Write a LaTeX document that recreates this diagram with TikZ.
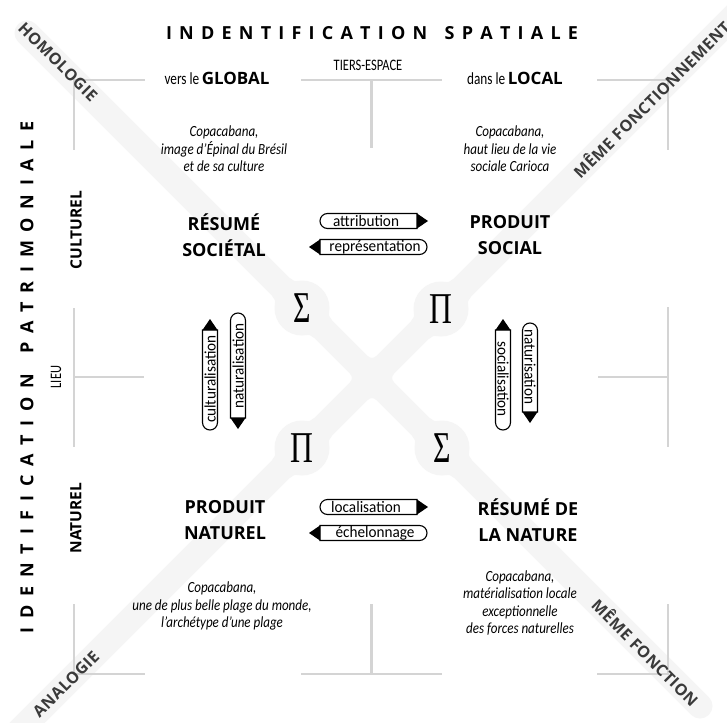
\documentclass[tikz,border=0pt]{standalone}
\usepackage{fontspec}
\setmainfont{Open Sans}
\newfontfamily\heavy{Open Sans}
\newfontfamily\cond[FakeStretch=0.78]{Carlito}
\newfontfamily\condit[FakeStretch=0.84]{Carlito}
\newfontfamily\boxf[FakeStretch=0.95]{Carlito}
\newfontfamily\grk{Liberation Serif}
\newfontfamily\bandf[LetterSpace=3]{Open Sans}
\usetikzlibrary{calc}
\definecolor{bandgray}{RGB}{245,245,245}
\definecolor{framegray}{RGB}{212,212,212}
\definecolor{bandtext}{RGB}{58,58,58}
\tikzset{
  pics/pill/.style={code={
    \draw[line width=1.1pt, fill=white] (#1/2,-7.5) -- (-#1/2+7.5,-7.5)
       arc[start angle=-90, end angle=-270, radius=7.5] -- (#1/2,7.5) -- cycle;
    \fill (#1/2,-7.5) -- (#1/2+11,0) -- (#1/2,7.5) -- cycle;
  }},
  pics/blob/.style={code={
    \fill[bandgray] (0,0) circle[radius=27.5];
    \foreach \sx in {1,-1} \foreach \sy in {1,-1}
      \fill[bandgray, xscale=\sx, yscale=\sy] (0,0) -- (29.9,12.5)
        arc[start angle=-90, end angle=-140.1, radius=12] -- cycle;
  }},
  pics/crossfill/.style={code={
    \foreach \a in {0,90,180,270}
      \fill[bandgray, rotate=\a] (12.5,12.5) -- (18.5,12.5)
        arc[start angle=-90, end angle=-180, radius=6] -- cycle;
  }}
}
\begin{document}
\begin{tikzpicture}[x=1pt,y=-1pt,
  bandline/.style={draw=bandgray, line width=25pt, line cap=round},
  fr/.style={draw=framegray, line width=2.2pt},
  titletxt/.style={font=\heavy\bfseries\fontsize{18}{18}\selectfont, inner sep=0pt},
  bandlbl/.style={font=\bandf\bfseries\fontsize{16}{16}\selectfont, text=bandtext, inner sep=0pt},
  quad/.style={font=\heavy\bfseries\fontsize{18}{26}\selectfont, align=center, inner sep=0pt},
  desc/.style={font=\condit\itshape\fontsize{15.5}{17.5}\selectfont, align=center, inner sep=0pt},
  sidelbl/.style={font=\heavy\bfseries\fontsize{15.5}{15.5}\selectfont, inner sep=0pt},
  smalllbl/.style={font=\cond\fontsize{16}{16}\selectfont, inner sep=0pt},
  pilltxt/.style={font=\boxf\fontsize{16}{16}\selectfont, inner sep=0pt},
  greek/.style={font=\grk\fontsize{44}{44}\selectfont, inner sep=0pt}
]
\path[use as bounding box, fill=white] (0,0) rectangle (727,722);

% ---- grey X band ----
\coordinate (bTL) at (27,33);
\coordinate (bBR) at (700,706);
\coordinate (bTR) at (745,5);
\coordinate (bBL) at (5,745);
\coordinate (xc) at (372,378);
\coordinate (c1) at (302,308);
\coordinate (c2) at (441,309);
\coordinate (c3) at (302,448);
\coordinate (c4) at (442,448);
\draw[bandline] (bTL) -- (bBR);
\draw[bandline] (bTR) -- (bBL);
\pic[rotate=-45] at (c1) {blob};
\pic[rotate=-45] at (c4) {blob};
\pic[rotate=45] at (c2) {blob};
\pic[rotate=45] at (c3) {blob};
\pic[rotate=45] at (xc) {crossfill};

% ---- frame lines ----
\draw[fr] (73,80) -- (145,80);   \draw[fr] (74,80) -- (74,150);
\draw[fr] (301,80) -- (442,80);  \draw[fr] (371.5,80) -- (371.5,148);
\draw[fr] (597,80) -- (669,80);  \draw[fr] (668,80) -- (668,150);
\draw[fr] (74,308) -- (74,447);  \draw[fr] (74,377) -- (144,377);
\draw[fr] (668,307) -- (668,447); \draw[fr] (598,377) -- (668,377);
\draw[fr] (73,674) -- (145,674);  \draw[fr] (74,604) -- (74,674);
\draw[fr] (301,674) -- (442,674); \draw[fr] (371.5,604) -- (371.5,674);
\draw[fr] (597,674) -- (669,674); \draw[fr] (668,604) -- (668,674);

% ---- titles ----
\node[titletxt] (tspat) at (372,33) {\makebox[412pt][s]{I\hfill N\hfill D\hfill E\hfill N\hfill T\hfill I\hfill F\hfill I\hfill C\hfill A\hfill T\hfill I\hfill O\hfill N\hfill\hspace{3pt}\hfill S\hfill P\hfill A\hfill T\hfill I\hfill A\hfill L\hfill E}};
\node[titletxt, rotate=90] (tpatr) at (27,377) {\makebox[512pt][s]{I\hfill D\hfill E\hfill N\hfill T\hfill I\hfill F\hfill I\hfill C\hfill A\hfill T\hfill I\hfill O\hfill N\hfill\hspace{3pt}\hfill P\hfill A\hfill T\hfill R\hfill I\hfill M\hfill O\hfill N\hfill I\hfill A\hfill L\hfill E}};

\node[smalllbl] (tiers) at (368,65) {TIERS-ESPACE};
\node[inner sep=0pt] (glob) at (217,78) {{\cond\fontsize{17}{17}\selectfont vers le} {\heavy\bfseries\fontsize{17}{17}\selectfont GLOBAL}};
\node[inner sep=0pt] (loc) at (515,78) {{\cond\fontsize{17}{17}\selectfont dans le} {\heavy\bfseries\fontsize{17}{17}\selectfont LOCAL}};
\node[smalllbl, rotate=90] (lieu) at (56,377) {LIEU};
\node[sidelbl, rotate=90] (cult) at (76,230) {CULTUREL};
\node[sidelbl, rotate=90] (natl) at (76,518) {NATUREL};

% ---- band labels ----
\node[bandlbl, rotate=-45] (hom) at (58,62) {HOMOLOGIE};
\node[bandlbl, rotate=45] (mfn) at (651,99) {MÊME FONCTIONNEMENT};
\node[bandlbl, rotate=45] (ana) at (66,684) {ANALOGIE};
\node[bandlbl, rotate=-45] (mf) at (646,652) {MÊME FONCTION};

% ---- greek ----
\node[greek] (s1) at (c1) {\scalebox{0.68}[1]{Σ}};
\node[greek] (p1) at (c2) {\scalebox{0.72}[1]{Π}};
\node[greek] (p2) at (c3) {\scalebox{0.72}[1]{Π}};
\node[greek] (s2) at (c4) {\scalebox{0.68}[1]{Σ}};

% ---- quadrants ----
\node[desc] (d1) at (224,149) {Copacabana,\\image d’Épinal du Brésil\\et de sa culture};
\node[desc] (d2) at (510,149) {Copacabana,\\haut lieu de la vie\\sociale Carioca};
\node[quad] (q1) at (224,235) {RÉSUMÉ\\SOCIÉTAL};
\node[quad] (q2) at (510,235) {PRODUIT\\SOCIAL};
\node[quad] (q3) at (225,520) {PRODUIT\\NATUREL};
\node[quad] (q4) at (528,520) {RÉSUMÉ DE\\LA NATURE};
\node[desc] (d3) at (222,606) {Copacabana,\\une de plus belle plage du monde,\\l’archétype d’une plage};
\node[desc] (d4) at (520,603) {Copacabana,\\matérialisation locale\\exceptionnelle\\des forces naturelles};

% ---- arrow pills ----
\pic at (368.5,221) {pill=97};
\node[pilltxt] (attr) at (366,221) {attribution};
\pic[xscale=-1] at (373.5,247) {pill=107};
\node[pilltxt] (repr) at (375,247) {représentation};
\pic at (368.5,507) {pill=97};
\node[pilltxt] (locz) at (366,507) {localisation};
\pic[xscale=-1] at (373.5,533) {pill=107};
\node[pilltxt] (eche) at (375,533) {échelonnage};

\pic[rotate=90] at (210,380) {pill=100};
\node[pilltxt, rotate=90] (cultz) at (210,379) {culturalisation};
\pic[rotate=-90] at (238,365.5) {pill=105};
\node[pilltxt, rotate=90] (natz) at (238,366) {naturalisation};
\pic[rotate=90] at (503,380) {pill=100};
\node[pilltxt, rotate=-90] (socz) at (503,379) {socialisation};
\pic[rotate=-90] at (530,367.5) {pill=89};
\node[pilltxt, rotate=-90] (natur) at (530,367) {naturisation};
\end{tikzpicture}
\end{document}
